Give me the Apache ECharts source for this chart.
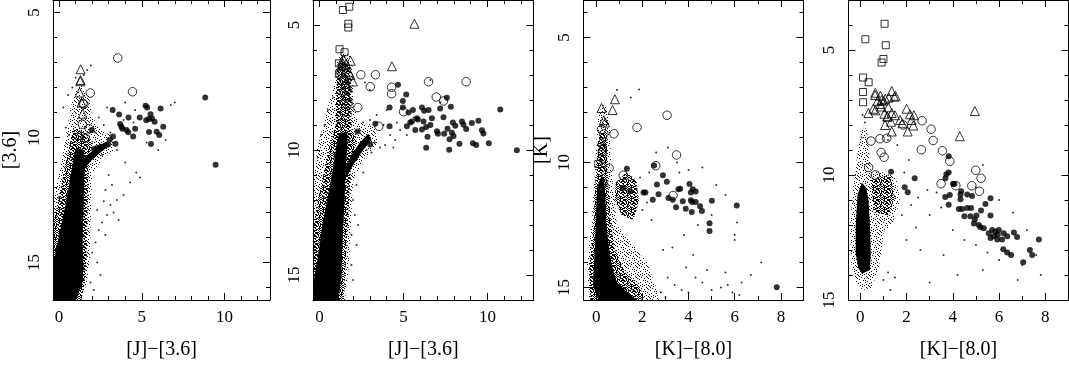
<!DOCTYPE html>
<html><head><meta charset="utf-8">
<script src="https://cdn.jsdelivr.net/npm/echarts@6/dist/echarts.min.js"></script>
<style>html,body{margin:0;padding:0;background:#fff}#c{width:1069px;height:365px}</style>
</head><body><div id="c"></div>
<script>
// ---------- tick values ----------
var jMajor = [0, 5, 10];
var jMinor = [0,1,2,3,4,5,6,7,8,9,10,11,12];
var kMajor = [0, 2, 4, 6, 8];
var kMinor = [0,1,2,3,4,5,6,7,8];
var magMajor = [5, 10, 15];
var p1YMinor = [5,6,7,8,9,10,11,12,13,14,15,16];
var p2YMinor = [4,5,6,7,8,9,10,11,12,13,14,15,16];
var p3YMinor = [4,5,6,7,8,9,10,11,12,13,14,15];
var p4YMinor = [3,4,5,6,7,8,9,10,11,12,13,14,15];
var nameJ = '[J]\u2212[3.6]';
var nameK = '[K]\u2212[8.0]';

// ---------- panel 1 : [3.6] vs [J]-[3.6] ----------
var p1Filled = [[3.24,8.90],[3.63,9.08],[3.69,9.46],[3.77,9.57],[4.20,9.20],[4.08,9.70],[4.18,9.79],[4.60,9.65],[4.48,9.96],[4.88,9.20],[5.23,8.73],[5.33,8.80],[5.53,9.07],[5.27,9.31],[5.43,9.26],[5.78,9.37],[5.44,9.78],[5.90,9.77],[6.06,9.90],[6.14,8.84],[6.30,9.57],[5.56,10.26],[1.98,9.70],[3.26,9.96],[3.41,10.25],[3.06,10.09],[2.96,10.28],[2.51,10.37],[2.27,10.43],[2.10,10.46],[8.84,8.40],[9.47,11.09],[5.62,9.24],[3.83,9.65]];
var p1Open = [[3.55,6.82],[4.44,8.17],[1.89,8.22],[1.50,8.67],[1.44,8.64],[1.40,9.47],[1.83,9.65],[1.58,10.01]];
var p1Tri = [[1.30,7.27],[1.30,7.70],[1.28,7.75],[1.24,8.20],[1.42,9.05],[1.24,9.90],[1.36,8.60]];
var p1Dots = [[1.92,7.12],[1.7,7.3],[1.0,7.6],[0.55,8.3],[0.25,8.8],[0.4,9.6],[0.6,9.9],[2.7,9.5],[3.1,9.8],[4.0,8.6],[4.6,8.9],[6.75,8.7],[6.45,10.1],[6.0,10.5],[5.3,10.2],[4.5,9.4],[3.9,9.3],[2.4,9.2],[2.2,9.8],[2.6,10.7],[3.5,10.5],[4.67,11.4],[4.3,11.8],[3.9,12.3],[3.5,12.5],[3.1,12.7],[2.7,12.55],[2.9,13.1],[3.3,13.0],[3.6,13.3],[2.6,13.4],[2.4,13.7],[2.8,13.9],[2.2,14.2],[2.0,14.6],[2.3,15.0],[2.5,15.5],[1.9,15.8],[2.1,16.1],[4.0,11.0],[3.2,11.9],[2.8,12.1],[3.0,11.5],[2.3,12.9],[4.9,11.6],[0.0,12.4],[-0.2,13.2],[-0.25,14.5],[7.0,8.6],[1.5,7.5],[0.8,8.0],[2.9,8.8]];
var p1Core = [[-0.37,16.5],[-0.37,15.8],[-0.3,14.87],[-0.06,14.1],[0.18,13.35],[0.43,12.55],[0.63,11.8],[0.83,11.0],[0.97,10.5],[1.1,10.4],[1.5,10.55],[1.56,11.0],[1.52,11.75],[1.48,12.8],[1.44,13.6],[1.42,14.35],[1.48,15.1],[1.42,15.8],[1.22,16.16],[1.02,16.5]];
var p1Branch = [[1.4,10.9],[1.9,10.6],[2.5,10.3],[2.9,10.15],[3.0,10.35],[2.5,10.6],[1.9,10.95],[1.5,11.3]];
var p1Inner = [[-0.37,16.5],[-0.37,13.5],[0.0,12.3],[0.35,11.2],[0.65,10.2],[0.9,9.6],[1.5,9.8],[2.0,10.2],[1.8,10.9],[1.75,12.0],[1.7,13.5],[1.65,15.0],[1.5,16.0],[1.35,16.5]];
var p1Halo = [[-0.37,16.5],[-0.37,12.8],[-0.15,11.8],[0.2,10.8],[0.45,9.8],[0.7,8.8],[0.95,8.2],[1.3,7.9],[1.8,8.3],[2.0,9.2],[2.6,9.7],[3.3,10.0],[3.3,10.5],[2.6,10.9],[2.0,11.4],[1.95,12.4],[1.9,13.6],[1.85,14.8],[1.7,15.7],[1.4,16.5]];

// ---------- panel 2 : [3.6] vs [J]-[3.6] ----------
var p2Filled = [[4.67,7.39],[5.16,7.78],[4.17,8.30],[4.96,8.04],[4.96,8.30],[3.32,8.95],[4.17,9.05],[3.02,9.78],[2.26,9.26],[5.20,9.05],[5.56,8.40],[5.50,8.86],[5.80,8.73],[6.10,8.30],[6.23,8.43],[6.49,8.40],[6.19,8.86],[6.35,9.08],[6.10,9.18],[6.43,9.47],[6.35,9.91],[6.69,8.73],[6.99,9.25],[7.05,9.35],[7.18,8.34],[7.38,8.69],[7.58,7.91],[7.82,8.27],[7.62,9.15],[7.42,9.35],[7.94,8.90],[8.08,9.03],[7.88,9.31],[7.74,9.57],[7.98,9.44],[7.72,9.99],[8.33,9.75],[8.48,8.86],[8.57,8.99],[8.73,9.16],[9.07,8.92],[9.13,9.73],[9.33,9.80],[9.46,8.83],[9.67,9.21],[9.76,9.34],[10.08,9.73],[10.76,8.38],[11.75,10.01],[5.40,8.90],[5.85,8.78],[6.60,9.00],[5.30,8.50],[5.70,9.20]];
var p2Open = [[2.46,6.99],[3.33,6.99],[3.02,7.47],[4.29,7.49],[4.29,7.75],[2.28,8.30],[1.71,8.14],[1.49,8.47],[3.53,9.05],[1.31,8.95],[1.55,9.57],[6.49,7.27],[8.73,7.27],[6.95,7.88],[7.38,8.04],[5.00,8.47]];
var p2Tri = [[5.65,4.95],[4.31,6.65],[1.85,6.43],[1.45,6.39],[1.33,6.45],[1.47,6.65],[1.23,6.78],[1.83,7.00],[1.99,7.26],[1.53,7.36],[1.43,7.62],[1.63,7.82],[1.30,6.60],[1.60,6.55],[1.75,6.90],[1.50,7.10],[1.35,7.20],[1.70,7.50],[1.45,8.00]];
var p2Sq = [[1.39,4.40],[1.77,4.27],[1.71,4.95],[1.71,5.10],[1.19,5.97],[1.49,6.09],[1.15,6.53],[1.15,6.95]];
var p2Dots = [[3.3,9.7],[3.6,9.9],[3.9,9.8],[4.2,9.4],[4.5,9.6],[4.8,9.2],[3.4,8.6],[3.0,8.8],[4.0,8.4],[4.6,8.9],[5.2,9.4],[2.6,8.9],[2.4,9.9],[2.2,10.4],[2.6,10.9],[2.2,11.4],[2.0,12.0],[2.1,12.6],[2.3,13.0],[1.9,13.4],[2.2,13.8],[3.0,7.6],[2.7,7.3],[5.6,8.7],[6.6,7.2],[7.2,8.1],[-0.1,10.3],[0.1,9.4],[0.3,9.0],[0.5,8.4],[0.8,7.9],[2.0,15.2],[3.8,9.0],[4.4,9.9],[2.8,10.0],[3.1,10.1],[1.9,14.6]];
var p2Core = [[-0.39,16.0],[-0.3,15.0],[-0.06,14.12],[0.14,13.08],[0.44,12.04],[0.73,11.0],[0.93,10.22],[1.04,9.6],[1.2,9.3],[1.65,9.3],[1.67,9.70],[1.59,10.48],[1.53,11.26],[1.47,12.3],[1.39,13.34],[1.33,14.38],[1.29,15.15],[1.13,16.0]];
var p2Branch = [[1.5,10.7],[1.9,10.2],[2.4,9.7],[2.9,9.35],[3.1,9.6],[2.6,10.0],[2.0,10.6],[1.6,11.1]];
var p2Inner = [[-0.39,16.0],[-0.39,13.3],[-0.1,12.0],[0.3,10.8],[0.6,9.8],[0.95,9.0],[1.0,7.5],[1.15,6.5],[1.8,6.5],[1.9,8.0],[1.9,9.2],[2.2,9.5],[1.9,10.6],[1.75,12.0],[1.6,14.0],[1.45,16.0]];
var p2Halo = [[-0.39,16.0],[-0.39,11.5],[-0.15,10.0],[0.3,8.7],[0.8,7.6],[1.05,6.5],[1.3,6.1],[1.8,6.2],[2.0,6.8],[2.0,8.0],[2.3,8.9],[3.3,9.0],[3.5,9.7],[2.6,10.4],[2.0,11.2],[1.9,12.5],[1.8,14.0],[1.7,15.0],[1.5,16.0]];

// ---------- panel 3 : [K] vs [K]-[8.0] ----------
var p3Filled = [[1.33,10.25],[2.51,10.12],[1.18,11.01],[1.47,11.16],[2.05,11.20],[2.13,11.20],[2.45,11.49],[2.63,10.88],[2.70,11.27],[2.89,10.51],[3.06,10.77],[3.13,11.42],[3.32,11.49],[3.46,11.79],[3.56,11.07],[3.64,11.05],[3.75,11.55],[3.88,11.85],[4.04,10.86],[4.10,11.20],[4.18,11.07],[4.10,11.51],[4.16,11.58],[4.14,11.98],[4.31,11.16],[4.31,11.58],[4.50,11.75],[4.58,11.94],[5.01,11.53],[4.91,12.43],[4.91,12.74],[6.09,11.72],[7.82,14.99]];
var p3Open = [[3.07,8.11],[1.77,8.60],[0.77,8.85],[0.33,8.85],[0.23,8.67],[3.48,9.70],[2.58,10.13],[0.56,10.23],[0.27,9.58],[0.25,9.84],[0.30,10.84],[3.33,11.32],[1.17,10.51]];
var p3Tri = [[0.81,7.47],[0.23,7.82],[0.71,7.90],[0.33,8.31],[0.38,8.40],[0.23,9.15],[0.28,9.35]];
var p3Sq = [[0.09,10.06]];
var p3Dots = [[1.86,7.08],[1.5,7.4],[0.9,7.1],[2.6,9.6],[3.1,9.4],[3.5,10.0],[4.0,10.3],[4.6,10.2],[5.2,10.9],[5.6,11.3],[6.1,12.4],[6.0,13.1],[5.0,12.1],[4.4,12.5],[3.8,12.9],[3.3,13.4],[2.9,13.5],[2.4,12.3],[2.0,11.9],[1.9,10.6],[2.3,10.4],[7.15,14.0],[6.7,14.5],[6.3,14.8],[5.7,14.9],[5.4,15.0],[5.0,15.1],[4.6,14.8],[4.3,14.6],[4.0,15.2],[3.7,15.1],[3.4,14.9],[3.1,14.6],[2.8,15.2],[3.0,15.4],[4.8,14.3],[5.9,15.2],[6.2,15.3],[4.2,13.7],[5.6,14.4],[3.9,14.2],[6.0,12.9],[3.6,10.4],[2.2,11.6]];
var p3Core = [[0.25,10.5],[0.03,11.03],[0.0,11.94],[-0.04,13.24],[-0.11,14.27],[-0.14,14.92],[0.1,15.5],[1.76,15.5],[1.33,15.18],[0.9,14.79],[0.68,14.14],[0.53,13.24],[0.43,12.33],[0.39,11.29],[0.35,10.77]];
var p3Clump = [[0.85,10.8],[1.3,10.4],[1.75,10.7],[1.85,11.6],[1.6,12.3],[1.1,12.1],[0.8,11.5]];
var p3Inner = [[-0.25,15.5],[-0.3,14.2],[-0.1,12.5],[-0.05,11.0],[0.05,9.8],[0.15,8.8],[0.45,8.8],[0.5,10.3],[0.6,12.0],[0.75,13.3],[1.2,14.3],[1.9,15.0],[2.1,15.5]];
var p3Halo = [[-0.3,15.5],[-0.4,14.0],[-0.2,12.5],[-0.1,11.0],[0.0,9.5],[0.1,8.0],[0.4,7.6],[0.6,8.5],[0.65,10.2],[0.8,11.5],[0.9,12.5],[1.5,13.2],[2.2,14.0],[2.6,15.0],[2.7,15.5]];

// ---------- panel 4 : [K] vs [K]-[8.0] ----------
var p4Filled = [[3.82,9.25],[3.82,9.90],[3.72,9.97],[3.68,10.13],[4.07,10.36],[4.33,10.78],[4.62,10.78],[4.83,10.84],[5.63,10.93],[4.33,10.97],[4.40,11.36],[4.26,11.36],[4.62,11.32],[4.79,11.32],[3.82,11.19],[3.87,10.80],[4.50,11.65],[4.76,11.65],[5.02,11.62],[5.22,11.42],[5.41,11.16],[5.63,11.62],[4.95,11.78],[4.91,11.94],[5.12,12.00],[5.19,12.09],[5.34,12.13],[5.70,12.20],[5.84,12.26],[5.99,12.20],[5.94,12.39],[5.77,12.45],[5.63,12.52],[6.20,12.33],[6.35,12.45],[6.64,12.30],[6.78,12.48],[6.13,12.58],[5.92,12.58],[7.72,12.58],[6.18,12.97],[6.35,13.10],[6.52,13.20],[7.04,13.49],[7.33,13.00],[7.43,13.20],[5.55,12.33],[4.36,10.65],[1.33,9.87],[2.35,10.13],[1.92,10.49],[2.05,10.69],[3.67,10.88],[4.01,10.35]];
var p4Open = [[2.67,7.83],[3.06,8.17],[3.15,8.62],[2.64,8.99],[3.55,9.03],[3.87,9.45],[4.99,9.81],[5.22,10.13],[4.82,10.43],[5.15,10.65],[4.13,10.43],[3.49,10.35],[1.86,8.00],[0.46,8.64],[0.85,8.55],[1.14,8.53],[0.90,9.10],[1.03,9.29],[0.65,10.00],[0.36,9.70]];
var p4Tri = [[1.36,6.64],[1.47,6.87],[0.64,6.80],[0.75,7.03],[0.92,7.00],[1.21,7.29],[0.90,7.26],[0.56,7.35],[0.35,7.52],[1.04,7.55],[1.36,7.52],[1.50,7.61],[1.18,7.67],[1.33,7.87],[1.07,8.00],[1.72,7.80],[2.00,7.35],[2.15,7.57],[2.32,7.61],[2.22,7.80],[2.29,8.02],[2.05,8.26],[1.36,8.26],[1.82,7.93],[4.95,7.44],[4.30,8.45],[1.08,6.95],[0.87,6.83],[1.23,6.90],[1.01,7.03],[0.87,7.16],[0.65,6.71],[0.65,7.41],[1.52,6.83],[1.16,7.65]];
var p4Sq = [[1.05,3.95],[0.22,4.57],[1.10,4.81],[1.00,5.36],[0.92,5.50],[0.12,6.10],[0.36,6.29],[0.12,6.68],[0.12,7.09]];
var p4Dots = [[1.0,14.2],[1.3,14.6],[1.5,14.1],[1.2,13.9],[2.0,12.6],[2.4,12.1],[3.0,11.6],[3.5,11.3],[2.5,10.9],[2.9,10.6],[3.3,10.7],[2.2,11.2],[1.8,11.6],[4.0,12.2],[4.5,12.6],[5.0,12.8],[5.5,13.1],[6.0,13.4],[7.0,13.6],[7.6,13.2],[7.8,14.0],[6.8,14.2],[5.3,13.8],[3.6,13.2],[2.6,13.0],[4.2,14.0],[3.0,14.3],[5.0,10.5],[6.0,11.0],[6.6,11.5],[7.2,12.2],[1.2,8.6],[1.6,8.8],[2.1,9.4],[1.9,9.9],[5.3,9.6],[0.1,7.6],[0.2,7.9],[0.05,8.5]];
var p4Core = [[0.07,10.3],[-0.12,10.8],[-0.2,12.07],[-0.2,13.1],[-0.1,13.7],[0.07,13.95],[0.42,13.8],[0.45,13.1],[0.42,12.07],[0.36,11.04],[0.26,10.52]];
var p4Clump = [[0.45,10.2],[1.3,10.0],[1.5,10.9],[1.2,11.6],[0.6,11.5]];
var p4Halo = [[-0.2,14.3],[-0.4,13.5],[-0.45,12.0],[-0.3,10.5],[-0.1,9.0],[0.05,8.0],[0.3,8.2],[0.45,9.8],[1.0,9.9],[1.55,10.1],[1.7,11.0],[1.5,11.8],[1.0,12.3],[0.9,13.3],[0.7,14.0],[0.5,14.5],[0.1,14.6]];

// ---------- styling helpers ----------
var FONT = 'Liberation Serif';
var speckBase = [[0,0],[4,0],[8,1],[3,2],[6,3],[10,3],[1,4],[5,5],[9,6],[2,7],[7,7],[0,8],[4,9],[8,9],[10,10],[2,10],[6,10],[9,2],[1,1],[7,5]];
function makePattern(n, shifts) {
  var c = document.createElement('canvas'); c.width = n; c.height = n;
  var g = c.getContext('2d'); g.fillStyle = '#000';
  shifts.forEach(function (s) {
    speckBase.forEach(function (p) { g.fillRect((p[0] + s[0]) % n, (p[1] + s[1]) % n, 1, 1); });
  });
  return { image: c, repeat: 'repeat' };
}
var sparseFill = makePattern(11, [[0,0]]);
var denseFill = makePattern(11, [[0,0],[5,3],[2,7],[8,5]]);

var panels = [
  { xr:[-0.37,12.76], yr:[4.5,16.5], xMaj:jMajor, xMin:jMinor, yMaj:magMajor, yMin:p1YMinor, xName:nameJ, yName:'[3.6]',
    box:{left:48, top:-1, width:222, height:309.5},
    filled:p1Filled, open:p1Open, tri:p1Tri, sq:[], dots:p1Dots, core:[p1Core, p1Branch], mid:[p1Inner], halo:[p1Halo] },
  { xr:[-0.39,12.74], yr:[4,16], xMaj:jMajor, xMin:jMinor, yMaj:magMajor, yMin:p2YMinor, xName:nameJ, yName:'',
    box:{left:313, top:0, width:220.5, height:308.3},
    filled:p2Filled, open:p2Open, tri:p2Tri, sq:p2Sq, dots:p2Dots, core:[p2Core, p2Branch], mid:[p2Inner], halo:[p2Halo] },
  { xr:[-0.55,8.98], yr:[3.5,15.5], xMaj:kMajor, xMin:kMinor, yMaj:magMajor, yMin:p3YMinor, xName:nameK, yName:'[K]',
    box:{left:583.5, top:0, width:220, height:308.5},
    filled:p3Filled, open:p3Open, tri:p3Tri, sq:p3Sq, dots:p3Dots, core:[p3Core], mid:[p3Inner, p3Clump], halo:[p3Halo] },
  { xr:[-0.51,9.0], yr:[3,15], xMaj:kMajor, xMin:kMinor, yMaj:magMajor, yMin:p4YMinor, xName:nameK, yName:'',
    box:{left:848.5, top:-0.5, width:220, height:309.5},
    filled:p4Filled, open:p4Open, tri:p4Tri, sq:p4Sq, dots:p4Dots, core:[p4Core], mid:[p4Clump], halo:[p4Halo] }
];

function axes(i, P, isX) {
  var r = isX ? P.xr : P.yr, maj = isX ? P.xMaj : P.yMaj, mn = isX ? P.xMin : P.yMin;
  var pos = isX ? ['bottom','top'] : ['left','right'];
  var out = [];
  [0,1].forEach(function (side) {
    [true,false].forEach(function (isMaj) {
      var a = { type:'value', gridIndex:i, position:pos[side], min:r[0], max:r[1], inverse:!isX, z:10,
        axisLine:{show:isMaj, onZero:false, lineStyle:{color:'#000', width:1}},
        axisTick:{show:true, inside:true, length:isMaj?7:4, customValues:isMaj?maj:mn, lineStyle:{color:'#000', width:1}},
        axisLabel:{show:false}, splitLine:{show:false}, axisPointer:{show:false} };
      if (side === 0 && isMaj) {
        a.axisLabel = { show:true, customValues:maj, color:'#000', fontFamily:FONT, fontSize:17, margin:isX?9:10, rotate:isX?0:90 };
        var nm = isX ? P.xName : P.yName;
        if (nm) { a.name = nm; a.nameLocation = 'middle'; a.nameGap = isX ? 40 : 32;
          a.nameTextStyle = { color:'#000', fontFamily:FONT, fontSize:20 }; }
      }
      out.push(a);
    });
  });
  return out;
}

function poly(i, pts, fill) {
  return { type:'custom', coordinateSystem:'cartesian2d', xAxisIndex:4*i, yAxisIndex:4*i, clip:true, silent:true,
    data:[pts[0]],
    renderItem:function (params, api) {
      return { type:'polygon', shape:{ points: pts.map(function (d) { return api.coord(d); }) }, style:{ fill: fill } };
    } };
}
function scat(i, data, symbol, size, filled) {
  return { type:'scatter', xAxisIndex:4*i, yAxisIndex:4*i, data:data, symbol:symbol, symbolSize:size, silent:true,
    itemStyle: filled ? { color:'#000' } : { color:'rgba(255,255,255,0)', borderColor:'#000', borderWidth:1 } };
}

var grids = [], xAxes = [], yAxes = [], series = [];
panels.forEach(function (P, i) {
  grids.push(P.box);
  xAxes = xAxes.concat(axes(i, P, true));
  yAxes = yAxes.concat(axes(i, P, false));
  P.halo.forEach(function (h) { series.push(poly(i, h, sparseFill)); });
  P.mid.forEach(function (h) { series.push(poly(i, h, denseFill)); });
  P.core.forEach(function (h) { series.push(poly(i, h, '#000')); });
  series.push(scat(i, P.dots, 'circle', 2, true));
  series.push(scat(i, P.filled, 'circle', 6, true));
  series.push(scat(i, P.open, 'circle', 8.5, false));
  series.push(scat(i, P.tri, 'triangle', 9, false));
  if (P.sq.length) series.push(scat(i, P.sq, 'rect', 7, false));
});

var chart = echarts.init(document.getElementById('c'), null, { renderer:'canvas' });
chart.setOption({ animation:false, backgroundColor:'#fff', grid:grids, xAxis:xAxes, yAxis:yAxes, series:series });
</script>
</body></html>
